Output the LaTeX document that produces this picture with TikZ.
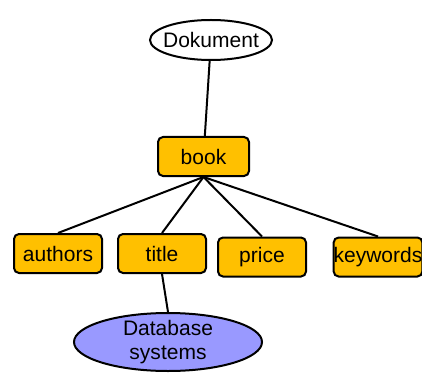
\documentclass[tikz,border=0pt]{standalone}
\usepackage{fontspec}
\setmainfont{Liberation Sans}
\usetikzlibrary{shapes.geometric}
\definecolor{boxfill}{HTML}{FFC000}
\definecolor{ellfill}{HTML}{9999FF}
\begin{document}
\begin{tikzpicture}[x=1pt,y=-1pt,
  lbl/.style={font=\fontsize{21}{24}\selectfont, inner sep=0pt, line width=2pt},
  boxnode/.style={lbl, draw=black, fill=boxfill, rounded corners=5pt, minimum height=39pt},
  ellnode/.style={lbl, draw=black, ellipse, align=center},
  conn/.style={line width=2pt}]
\useasboundingbox (0,0) rectangle (422,374);
\node[ellnode, fill=white, inner xsep=-6pt, minimum width=122pt, minimum height=40pt] (dok) at (211,40) {Dokument};
\node[boxnode, minimum width=91pt] (book) at (203.5,156.5) {book};
\node[boxnode, minimum width=88pt] (authors) at (58,253.5) {authors};
\node[boxnode, minimum width=88pt] (title) at (162,253.5) {title};
\node[boxnode, minimum width=88pt] (price) at (262,257) {price};
\node[boxnode, minimum width=86pt] (keywords) at (378,257) {keywords};
\node[ellnode, fill=ellfill, inner ysep=-3pt, minimum width=188pt, minimum height=58pt] (db) at (168,342) {Database\\systems};
\draw[conn] (dok) -- (book);
\draw[conn] (book.south) -- (authors.north);
\draw[conn] (book.south) -- (title.north);
\draw[conn] (book.south) -- (price.north);
\draw[conn] (book.south) -- (keywords.north);
\draw[conn] (title.south) -- (db.north);
\end{tikzpicture}
\end{document}
